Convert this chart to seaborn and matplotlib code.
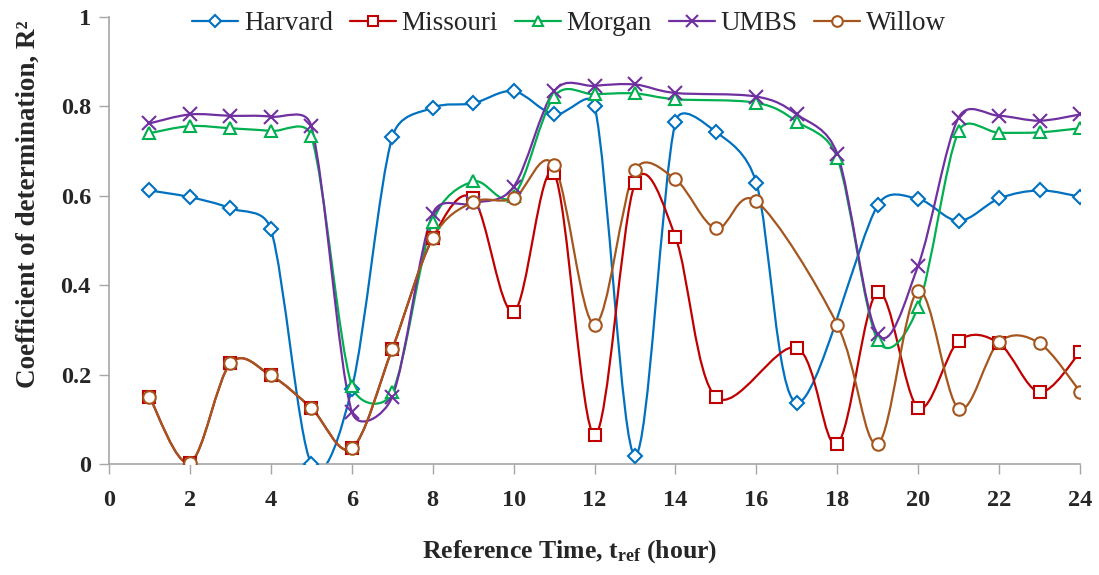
import numpy as np
import pandas as pd
import matplotlib
matplotlib.use("Agg")
import matplotlib.pyplot as plt
from matplotlib.path import Path
from matplotlib.patches import PathPatch
from matplotlib.lines import Line2D
import seaborn as sns

# ---- data ----
hours = list(range(1, 25))
nan = np.nan
harvard = [0.612, 0.597, 0.572, 0.525, 0.000, 0.168, 0.731, 0.797, 0.807, 0.834,
           0.782, 0.802, 0.019, 0.765, 0.743, 0.629, 0.137, nan, 0.579, 0.593,
           0.544, 0.594, 0.612, 0.598]
missouri = [0.150, 0.003, 0.225, 0.198, 0.125, 0.035, 0.257, 0.505, 0.594, 0.340,
            0.650, 0.065, 0.628, 0.508, 0.150, nan, 0.260, 0.045, 0.385, 0.126,
            0.275, 0.270, 0.161, 0.250]
morgan = [0.740, 0.756, 0.751, 0.745, 0.733, 0.175, 0.160, 0.542, 0.632, 0.600,
          0.822, 0.827, 0.829, 0.816, nan, 0.808, 0.766, 0.685, 0.277, 0.352,
          0.744, 0.741, 0.742, 0.751]
umbs = [0.762, 0.782, 0.779, 0.777, 0.756, 0.117, 0.150, 0.560, 0.583, 0.620,
        0.834, 0.846, 0.849, 0.830, nan, 0.822, 0.782, 0.694, 0.290, 0.444,
        0.775, 0.779, 0.768, 0.782]
willow = [0.150, 0.003, 0.225, 0.198, 0.125, 0.035, 0.257, 0.505, 0.586, 0.594,
          0.668, 0.312, 0.657, 0.637, 0.527, 0.588, nan, 0.312, 0.045, 0.387,
          0.124, 0.273, 0.270, 0.162]

series_names = ["Harvard", "Missouri", "Morgan", "UMBS", "Willow"]
series_values = [harvard, missouri, morgan, umbs, willow]
colors = ["#0070C0", "#C00000", "#00B050", "#7030A0", "#A5561E"]
markers = ["D", "s", "^", "x", "o"]
msizes = [7, 9, 9, 9.5, 9]

df = pd.DataFrame({"hour": hours})
for n, v in zip(series_names, series_values):
    df[n] = v

# ---- style ----
sns.set_theme(style="white")
plt.rcParams["font.family"] = ["Liberation Serif", "DejaVu Serif"]
plt.rcParams["mathtext.fontset"] = "custom"
plt.rcParams["mathtext.rm"] = "Liberation Serif:bold"
plt.rcParams["mathtext.it"] = "Liberation Serif:bold"
plt.rcParams["mathtext.bf"] = "Liberation Serif:bold"

fig = plt.figure(figsize=(10.99, 5.75), dpi=100)
ax = fig.add_axes([109 / 1099, 111 / 575, 971 / 1099, 447 / 575])
ax.set_xlim(0, 24)
ax.set_ylim(0, 1)


def _arm(vec, seg_len):
    """Catmull-Rom arm (1/6 of the neighbour chord), limited to half the segment."""
    a = vec / 6.0
    la = np.hypot(*a)
    lim = seg_len / 2.0
    if la > lim and la > 0:
        a = a * lim / la
    return a


def smooth_path(ax, x, y):
    """Smoothed line (spreadsheet style) built from cubic Bezier segments."""
    P = ax.transData.transform(np.column_stack([x, y]))
    n = len(P)
    verts = [P[0]]
    codes = [Path.MOVETO]
    for i in range(n - 1):
        p0 = P[i - 1] if i > 0 else P[i]
        p1, p2 = P[i], P[i + 1]
        p3 = P[i + 2] if i + 2 < n else P[i + 1]
        seg = np.hypot(*(p2 - p1))
        c1 = p1 + _arm(p2 - p0, seg)
        c2 = p2 - _arm(p3 - p1, seg)
        verts += [c1, c2, p2]
        codes += [Path.CURVE4] * 3
    verts = ax.transData.inverted().transform(np.array(verts))
    return Path(verts, codes)


handles = []
for name, c, m, ms in zip(series_names, colors, markers, msizes):
    sub = df[["hour", name]].dropna()
    path = smooth_path(ax, sub["hour"].to_numpy(float), sub[name].to_numpy(float))
    ax.add_patch(PathPatch(path, fill=False, edgecolor=c, lw=1.6,
                           transform=ax.transData, zorder=2))
    fc = "white" if m != "x" else c
    sns.lineplot(data=sub, x="hour", y=name, ax=ax, color=c, marker=m,
                 markersize=ms, markerfacecolor=fc,
                 markeredgecolor=c, markeredgewidth=1.5, linestyle="",
                 zorder=3, legend=False)
    handles.append(Line2D([0], [0], color=c, lw=1.6, marker=m,
                          markersize=ms * 0.85, markerfacecolor=fc,
                          markeredgecolor=c, markeredgewidth=1.5))

ax.set_xlim(0, 24)
ax.set_ylim(0, 1)
ax.set_xticks(range(0, 25, 2))
ax.set_yticks([0, 0.2, 0.4, 0.6, 0.8, 1.0])
ax.set_yticklabels(["0", "0.2", "0.4", "0.6", "0.8", "1"])
for s in ["top", "right"]:
    ax.spines[s].set_visible(False)
for s in ["left", "bottom"]:
    ax.spines[s].set_color("#A6A6A6")
    ax.spines[s].set_linewidth(1.2)
ax.tick_params(axis="both", which="major", direction="out", length=7,
               width=1.0, color="#A6A6A6", labelsize=17.5,
               left=True, bottom=True)
ax.tick_params(axis="x", pad=11.5)
ax.tick_params(axis="y", pad=6)
for lab in ax.get_xticklabels() + ax.get_yticklabels():
    lab.set_fontweight("bold")

ax.set_xlabel(r"Reference Time, t$_{\mathrm{ref}}$ (hour)", fontsize=18.5,
              fontweight="bold")
ax.xaxis.set_label_coords((569.5 - 109) / 971, -0.1655)
ax.set_ylabel("Coefficient of determination, R\u00b2", fontsize=19.5,
              fontweight="bold")
ax.yaxis.set_label_coords((41 - 109) / 971, (464 - 204) / 447)

fig.legend(handles, series_names, loc="center", ncol=5,
           bbox_to_anchor=(569 / 1099, 1 - 24 / 575), frameon=False,
           fontsize=19.5, handlelength=1.7, handletextpad=0.2,
           columnspacing=0.63)

fig.savefig("out.png", dpi=100)
